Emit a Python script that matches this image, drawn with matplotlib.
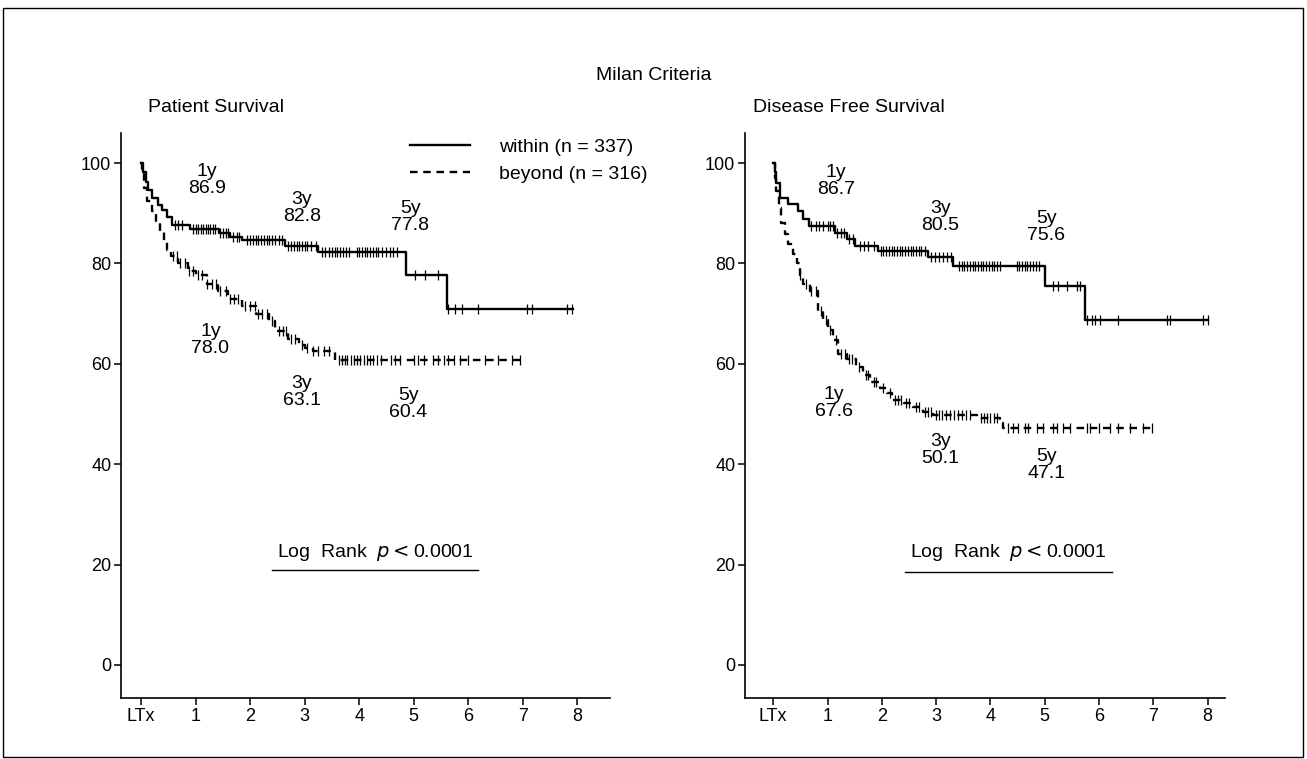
import numpy as np
import matplotlib
matplotlib.use("Agg")
import matplotlib.pyplot as plt
from matplotlib.patches import Rectangle

plt.rcParams['font.family'] = ['Liberation Sans', 'DejaVu Sans']

# ---- data (years after LTx, survival %) ----
year_ticks = [0, 1, 2, 3, 4, 5, 6, 7, 8]
year_labels = ['LTx', '1', '2', '3', '4', '5', '6', '7', '8']
surv_ticks = [0, 20, 40, 60, 80, 100]

# Patient survival, within Milan
ps_in_t = [0, 0.03, 0.08, 0.13, 0.2, 0.3, 0.38, 0.47, 0.56, 0.9, 1.42, 1.63, 1.85, 2.64, 3.25, 4.86, 5.61, 7.92]
ps_in_s = [100, 98.2, 96.3, 94.6, 93.0, 91.6, 90.6, 89.3, 87.6, 86.8, 86.0, 85.3, 84.7, 83.5, 82.3, 77.7, 71.0, 71.0]
ps_in_cens = [0.62, 0.68, 0.75, 0.95, 1.0, 1.05, 1.1, 1.14, 1.18, 1.22, 1.27, 1.31, 1.36,
              1.45, 1.5, 1.56, 1.6, 1.68, 1.75, 1.8, 1.95, 2.0, 2.05, 2.1, 2.15, 2.2, 2.25,
              2.3, 2.35, 2.4, 2.46, 2.52, 2.58, 2.7, 2.75, 2.8, 2.85, 2.9, 2.95, 3.0, 3.05,
              3.12, 3.2, 3.32, 3.38, 3.44, 3.5, 3.55, 3.6, 3.65, 3.7, 3.75, 3.82, 3.95, 4.0,
              4.05, 4.1, 4.15, 4.2, 4.25, 4.3, 4.35, 4.42, 4.5, 4.56, 4.62, 4.7, 5.03, 5.21,
              5.45, 5.63, 5.76, 5.89, 6.17, 7.08, 7.17, 7.82, 7.91]

# Patient survival, beyond Milan
ps_out_t = [0, 0.02, 0.05, 0.1, 0.2, 0.28, 0.35, 0.42, 0.48, 0.55, 0.68, 0.85, 1.0, 1.2, 1.4,
            1.6, 1.85, 2.1, 2.35, 2.45, 2.7, 2.9, 3.0, 3.15, 3.55, 7.05]
ps_out_s = [100, 98, 95, 92.5, 90.5, 88.5, 86.5, 84.5, 82.7, 81.5, 80, 78.5, 77.7, 76, 74.5,
            73, 71.5, 70, 68.5, 66.5, 65, 63.8, 63.1, 62.5, 60.8, 60.8]
ps_out_cens = [0.58, 0.65, 0.72, 0.8, 0.88, 0.95, 1.05, 1.12, 1.2, 1.3, 1.38, 1.45, 1.55, 1.62,
               1.7, 1.78, 1.9, 2.0, 2.08, 2.15, 2.22, 2.3, 2.4, 2.52, 2.6, 2.66, 2.75, 2.82,
               2.95, 3.05, 3.15, 3.25, 3.35, 3.45, 3.62, 3.68, 3.73, 3.78, 3.84, 3.9, 3.95,
               4.02, 4.08, 4.14, 4.2, 4.26, 4.32, 4.4, 4.58, 4.65, 4.75, 5.0, 5.08, 5.18,
               5.35, 5.45, 5.55, 5.62, 5.73, 5.85, 6.0, 6.3, 6.55, 6.8, 6.95]

# Disease free survival, within Milan
dfs_in_t = [0, 0.04, 0.06, 0.13, 0.28, 0.46, 0.55, 0.65, 1.14, 1.36, 1.51, 1.93, 2.85, 3.31, 5.0, 5.75, 8.0]
dfs_in_s = [100, 98.3, 96.0, 93.0, 91.8, 90.4, 88.8, 87.5, 86.1, 84.9, 83.5, 82.5, 81.2, 79.5, 75.6, 68.8, 68.8]
dfs_in_cens = [0.7, 0.78, 0.85, 0.92, 1.0, 1.05, 1.1, 1.18, 1.24, 1.3, 1.4, 1.46, 1.6, 1.68,
               1.75, 1.85, 1.98, 2.03, 2.08, 2.13, 2.18, 2.23, 2.28, 2.33, 2.38, 2.43, 2.48,
               2.53, 2.58, 2.63, 2.68, 2.73, 2.8, 2.9, 2.98, 3.05, 3.12, 3.2, 3.28, 3.42,
               3.47, 3.52, 3.57, 3.62, 3.67, 3.72, 3.77, 3.82, 3.87, 3.92, 3.97, 4.02, 4.07,
               4.12, 4.18, 4.48, 4.53, 4.58, 4.63, 4.68, 4.73, 4.78, 4.84, 4.9, 5.16, 5.25,
               5.41, 5.6, 5.65, 5.78, 5.87, 5.93, 6.02, 6.34, 7.26, 7.31, 7.92, 8.0]

# Disease free survival, beyond Milan
dfs_out_t = [0, 0.03, 0.05, 0.1, 0.15, 0.22, 0.28, 0.37, 0.44, 0.5, 0.55, 0.68, 0.83, 0.92,
             1.01, 1.1, 1.2, 1.36, 1.53, 1.66, 1.79, 1.97, 2.1, 2.19, 2.4, 2.58, 2.75, 2.95,
             3.76, 4.18, 4.24, 7.0]
dfs_out_s = [100, 97, 94.4, 91, 88, 85.9, 83.9, 81.9, 80, 77.6, 76, 74.6, 70.6, 68.7, 66.7,
             64.7, 62, 61, 59.4, 57.8, 56.4, 55.2, 54.2, 52.8, 52.2, 51.4, 50.4, 49.8, 49.2,
             48.2, 47.2, 47.2]
dfs_out_cens = [0.5, 0.6, 0.7, 0.78, 0.88, 0.97, 1.05, 1.15, 1.25, 1.32, 1.4, 1.45, 1.58,
                1.7, 1.75, 1.85, 1.9, 2.02, 2.15, 2.25, 2.3, 2.35, 2.45, 2.5, 2.62, 2.68,
                2.8, 2.85, 2.9, 3.0, 3.05, 3.1, 3.18, 3.25, 3.32, 3.4, 3.48, 3.55, 3.62,
                3.82, 3.88, 3.94, 4.0, 4.06, 4.12, 4.33, 4.42, 4.51, 4.64, 4.7, 4.86, 4.97,
                5.16, 5.23, 5.34, 5.47, 5.78, 5.84, 5.99, 6.21, 6.35, 6.57, 6.81, 6.98]

ps_labels_in = [(1, 86.9), (3, 82.8), (5, 77.8)]
ps_labels_out = [(1, 78.0), (3, 63.1), (5, 60.4)]
dfs_labels_in = [(1, 86.7), (3, 80.5), (5, 75.6)]
dfs_labels_out = [(1, 67.6), (3, 50.1), (5, 47.1)]

n_within, n_beyond = 337, 316

# label positions (x, y in data units), per panel
ps_pos_in = [(1.21, 96.6), (2.95, 91.0), (4.94, 89.2)]
ps_pos_out = [(1.27, 64.7), (2.95, 54.4), (4.90, 52.0)]
dfs_pos_in = [(1.16, 96.4), (3.08, 89.2), (5.03, 87.2)]
dfs_pos_out = [(1.12, 52.1), (3.08, 42.9), (5.03, 39.8)]

DASH = (0, (3.2, 2.4))
FS = 14


def step_value(t, s, x):
    idx = np.searchsorted(np.asarray(t), x, side='right') - 1
    return np.asarray(s)[idx]


def km(ax, t, s, cens, ls, label):
    ax.step(t, s, where='post', color='k', lw=1.7, ls=ls, label=label)
    ax.plot(cens, step_value(t, s, cens), ls='none', marker='|', color='k',
            markersize=7.5, markeredgewidth=0.9)


def style(ax, xlim):
    ax.set_xlim(*xlim)
    ax.set_ylim(-6.6, 106)
    ax.set_xticks(year_ticks)
    ax.set_xticklabels(year_labels)
    ax.set_yticks(surv_ticks)
    for sp in ['top', 'right']:
        ax.spines[sp].set_visible(False)
    for sp in ['left', 'bottom']:
        ax.spines[sp].set_linewidth(1.2)
    ax.tick_params(axis='both', labelsize=13, width=1.1, length=5, pad=2)


def annotate(ax, labels, positions):
    for (yr, val), (x, y) in zip(labels, positions):
        ax.text(x, y, f"{yr}y\n{val:.1f}", ha='center', va='center',
                fontsize=FS, linespacing=1.0)


def logrank(ax, xc, y, x0, x1, yline):
    ax.text(xc, y, "Log  Rank  $\\it{p}$$<$0.0001", ha='center', va='center', fontsize=FS)
    ax.plot([x0, x1], [yline, yline], color='k', lw=1.0)


fig = plt.figure(figsize=(13.07, 7.59), dpi=100)

ax1 = fig.add_axes([0.0926, 0.0804, 0.3741, 0.7444])
km(ax1, ps_in_t, ps_in_s, ps_in_cens, '-', f"within (n = {n_within})")
km(ax1, ps_out_t, ps_out_s, ps_out_cens, DASH, f"beyond (n = {n_beyond})")
style(ax1, (-0.37, 8.6))
annotate(ax1, ps_labels_in, ps_pos_in)
annotate(ax1, ps_labels_out, ps_pos_out)
logrank(ax1, 4.3, 22.3, 2.4, 6.18, 18.9)
ax1.legend(loc='upper left', bbox_to_anchor=(410 / 1307, 1 - 138 / 759),
           bbox_transform=fig.transFigure, frameon=False, fontsize=FS,
           handlelength=3.1, handletextpad=1.5, labelspacing=0.5,
           borderpad=0, borderaxespad=0)

ax2 = fig.add_axes([0.570, 0.0804, 0.3673, 0.7444])
km(ax2, dfs_in_t, dfs_in_s, dfs_in_cens, '-', None)
km(ax2, dfs_out_t, dfs_out_s, dfs_out_cens, DASH, None)
style(ax2, (-0.52, 8.32))
annotate(ax2, dfs_labels_in, dfs_pos_in)
annotate(ax2, dfs_labels_out, dfs_pos_out)
logrank(ax2, 4.33, 22.3, 2.43, 6.24, 18.6)

fig.text(0.5, 1 - 75 / 759, "Milan Criteria", ha='center', va='center', fontsize=FS)
fig.text(148 / 1307, 1 - 107 / 759, "Patient Survival", ha='left', va='center', fontsize=FS)
fig.text(753 / 1307, 1 - 107 / 759, "Disease Free Survival", ha='left', va='center', fontsize=FS)

fig.patches.append(Rectangle((3 / 1307, 2 / 759), 1300 / 1307, 749 / 759,
                             transform=fig.transFigure, fill=False, ec='k', lw=1.0))

fig.savefig("out.png", dpi=100)
